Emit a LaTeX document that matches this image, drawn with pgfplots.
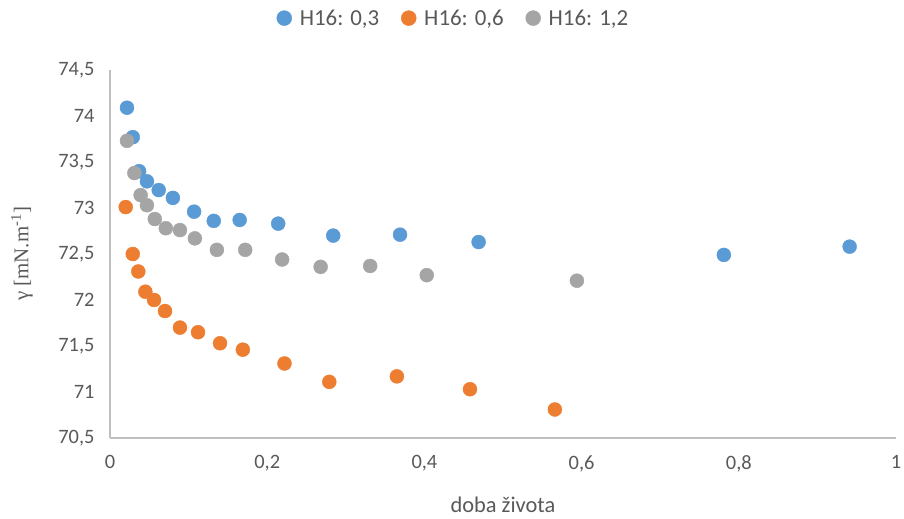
\documentclass[border=0pt]{standalone}
\usepackage{pgfplots}
\pgfplotsset{compat=1.18}
\usepackage{fontspec}
\setmainfont{Carlito}
\newfontfamily\seriffont{Liberation Serif}
\definecolor{cblue}{HTML}{5B9BD5}
\definecolor{corange}{HTML}{ED7D31}
\definecolor{cgray}{HTML}{A5A5A5}
\definecolor{axgray}{HTML}{BFBFBF}
\definecolor{txtgray}{HTML}{595959}
\begin{document}
\begin{tikzpicture}
\path[use as bounding box] (-110bp,-81bp) rectangle (794bp,438bp);
\begin{axis}[
  at={(0,0)}, anchor=south west,
  scale only axis,
  width=786bp, height=368bp,
  xmin=0, xmax=1, ymin=70.5, ymax=74.5,
  xtick={0,0.2,...,1}, ytick={70.5,71,...,74.5},
  axis x line*=bottom, axis y line*=left,
  axis line style={axgray, line width=1.2bp},
  major tick length=0pt,
  /pgf/number format/assume math mode=true,
  /pgf/number format/use comma,
  /pgf/number format/1000 sep={},
  ticklabel style={font=\fontsize{20.5}{24}\selectfont, text=txtgray},
  yticklabel style={xshift=-12bp},
  xticklabel style={yshift=-14bp},
  xlabel={doba života},
  ylabel={{\seriffont γ [mN.m\textsuperscript{-1}]}},
  xlabel style={font=\fontsize{22.5}{26}\selectfont, text=txtgray, at={(axis description cs:0.5,-0.182)}, anchor=center},
  ylabel style={font=\fontsize{21}{25}\selectfont, text=txtgray, at={(axis description cs:-0.112,0.5)}, anchor=center, rotate=0},
  legend style={at={(axis description cs:0.437,1.141)}, anchor=center, draw=none, font=\fontsize{23}{27}\selectfont, text=txtgray, /tikz/every odd column/.append style={column sep=6bp}, /tikz/every even column/.append style={column sep=20bp}},
  legend image code/.code={\draw[#1, mark size=7.5bp] plot coordinates {(0bp,0bp)};},
  legend columns=3,
  legend cell align=left,
  clip=false,
]
\addplot[only marks, mark=*, mark size=7bp, cblue, mark options={draw=cblue, fill=cblue}] coordinates {
(0.0216,74.09) (0.029,73.77) (0.037,73.40) (0.047,73.29) (0.062,73.195)
(0.080,73.11) (0.107,72.96) (0.132,72.86) (0.165,72.87) (0.214,72.83)
(0.284,72.70) (0.369,72.71) (0.469,72.63) (0.781,72.49) (0.941,72.58)
};
\addlegendentry{H16: 0,3}
\addplot[only marks, mark=*, mark size=7bp, corange, mark options={draw=corange, fill=corange}] coordinates {
(0.020,73.01) (0.029,72.50) (0.036,72.31) (0.045,72.09) (0.056,72.00)
(0.070,71.88) (0.089,71.70) (0.112,71.65) (0.140,71.53) (0.169,71.46)
(0.222,71.31) (0.279,71.11) (0.365,71.17) (0.458,71.03) (0.566,70.81)
};
\addlegendentry{H16: 0,6}
\addplot[only marks, mark=*, mark size=7bp, cgray, mark options={draw=cgray, fill=cgray}] coordinates {
(0.0216,73.73) (0.031,73.38) (0.039,73.14) (0.047,73.03) (0.057,72.88)
(0.071,72.78) (0.089,72.76) (0.108,72.67) (0.136,72.545) (0.172,72.545)
(0.219,72.44) (0.268,72.36) (0.331,72.37) (0.403,72.27) (0.594,72.21)
};
\addlegendentry{H16: 1,2}
\end{axis}
\end{tikzpicture}
\end{document}
